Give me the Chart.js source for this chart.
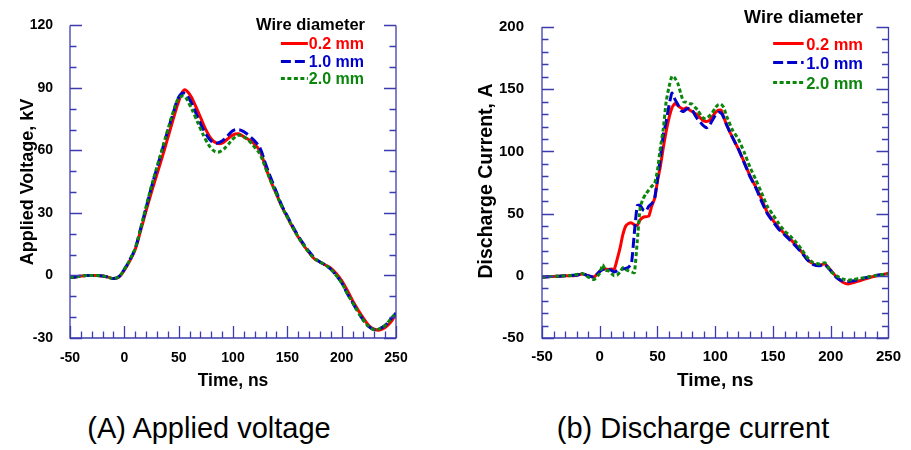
<!DOCTYPE html>
<html><head><meta charset="utf-8">
<script src="https://cdn.jsdelivr.net/npm/chart.js@4.4.1/dist/chart.umd.min.js"></script>
<style>
html,body{margin:0;padding:0;background:#fff;}
body{width:911px;height:450px;position:relative;overflow:hidden;font-family:Arial,"Liberation Sans",sans-serif;}
#wa{position:absolute;left:0;top:0;width:455px;height:400px;}
#wb{position:absolute;left:462px;top:0;width:449px;height:400px;}
.cap{position:absolute;top:414px;font-size:29px;line-height:29px;white-space:nowrap;color:#000;transform:translateX(-50%);}
</style></head><body>
<div id="wa"><canvas id="ca"></canvas></div>
<div id="wb"><canvas id="cb"></canvas></div>
<div class="cap" style="left:209px">(A) Applied voltage</div>
<div class="cap" style="left:693px">(b) Discharge current</div>
<script>
// ---------- DATA ----------
const seriesLabels = ['0.2 mm', '1.0 mm', '2.0 mm'];

// (A) Applied voltage, kV  vs time, ns
const timeA = [-50,-45,-40,-35,-30,-25,-20,-15,-10,-5,0,5,10,15,20,25,30,35,40,45,50,55,60,65,70,75,80,85,90,95,100,105,110,115,120,125,130,135,140,145,150,155,160,165,170,175,180,185,190,195,200,205,210,215,220,225,230,235,240,245,250];
const voltage02 = [-1,-0.7,-0.3,0,0,0,-0.3,-0.8,-1.5,-0.8,2.5,7,12.5,21.5,31,40,48.5,57,66,75,83.5,89,87,82,76,70,65.5,63.5,63.5,65.5,67.5,68,66.5,65,63,59.5,52,45,39,33,28,23,18.5,14.5,11,8,6.5,5,3.5,1,-2.5,-7,-12,-16.5,-20.5,-24,-25.8,-26.2,-25,-22.5,-18.5];
const voltage10 = [-1,-0.7,-0.3,0,0,0,-0.3,-0.8,-1.5,-0.5,3,7.5,13,22.5,32.5,42.5,51.5,60.5,69.5,78,85.5,87.5,84.5,79,73,68,64.5,63.5,64.5,67,69.5,70,69,67,64.5,61,53.5,46.5,40,33.5,28.5,23.5,19,15,11.5,8.5,6.5,5,3,0,-3.5,-8.5,-13,-17.5,-21.5,-24.5,-26,-25.5,-24,-21,-18];
const voltage20 = [-1,-0.7,-0.3,0,0,0,-0.3,-0.8,-1.5,-0.5,3,7.5,13,22.5,33,43,52,61,70,78.5,85,86,82,76.5,70.5,65,61,59.2,60,62.5,65.5,67.3,66.5,64.5,61.5,58,51.5,45,39,33,28,23,18.5,14.5,11,8,6.5,5,3,0,-3.5,-8.5,-13,-17.5,-21.5,-24.5,-26,-25.5,-24,-21,-18];

// (b) Discharge current, A  vs time, ns
const timeB = [-50,-45,-40,-35,-30,-25,-20,-15,-10,-5,0,2.5,5,7.5,10,12.5,15,17.5,20,22.5,25,27.5,30,32.5,35,37.5,40,42.5,45,47.5,50,52.5,55,57.5,60,62.5,65,67.5,70,72.5,75,77.5,80,82.5,85,87.5,90,92.5,95,97.5,100,102.5,105,107.5,110,115,120,125,130,135,140,145,150,155,160,165,170,175,180,185,190,195,200,205,210,215,220,225,230,235,240,245,250];
const current02 = [-1,-0.8,-0.5,-0.3,0,0,0.5,1.5,0,-1,3.5,5.5,5.5,5,5.5,5,13,22,33,40,42,42.5,41,40.5,45,47,47.5,48,56,62,76,88,103,116,127,135,138.5,137,135,134,135,133.5,132,130.5,129,126.5,124.5,124,125,128,131,133,133.3,127,121,111,102,91.5,80.5,71.5,62,51,44.5,38.5,34,29.5,24.5,19,13,9.5,8.5,9.5,4.5,-1,-5,-6.5,-5.5,-4,-2.5,-1,0,1,2];
const current10 = [-1,-0.8,-0.5,-0.3,0,0.3,0.5,1.5,0,-1,3.5,5,5.5,5,4.5,3,4,5,5.5,6,7,10,35,56.5,56.5,53,52,56,58,62,78,95,113,124,137,147,142,138,133,132,134,134.5,133.5,129,125.5,123,120.5,119,121,125,129,131.5,131,127,121,111,102,91,80,71,60,50,43.5,37.5,33,28.5,23.5,18.5,12.5,9,8,9,4,-1.5,-4,-4.5,-4,-3,-1.5,-0.5,0.5,1,1.5];
const current20 = [-1,-0.8,-0.5,-0.3,0,0.3,1,1.8,-1,-3,2,9,4.5,4,2,0,0.5,3,6.5,5,4,3,2.5,28,55,62,66,69,72,74,85,103,118,140,152,160.5,159,155,147,140,139.5,138.5,138,135.5,133,129,126.5,127,128.5,131,135,137.5,138,135,128,117,110,99.5,87.5,77.5,67,56,49,42,36,32,27,21,14.5,10.5,9.5,10.5,3.5,0,-2.5,-3.5,-3,-2,-1.5,-0.5,0.5,1,1.5];

// ---------- STYLE ----------
const FONT = 'Arial, "Liberation Sans", sans-serif';
const COLORS = ['#ff0000', '#0000cc', '#0a870a'];
const DASHES = [[], [10, 4], [4, 2.5]];
const FRAME = '#3c3cb0';

function buildSets(times, lists, tension) {
  return lists.map((vals, k) => ({
    label: seriesLabels[k],
    data: times.map((t, i) => ({x: t, y: vals[i]})),
    borderColor: COLORS[k],
    backgroundColor: COLORS[k],
    borderDash: DASHES[k],
    borderWidth: 3,
    pointRadius: 0,
    tension: tension,
    fill: false,
    order: 3 - k
  }));
}

const framePlugin = {
  id: 'frame',
  afterDraw(chart, args, o) {
    const {ctx, chartArea: a, scales} = chart;
    const xs = scales.x, ys = scales.y;
    ctx.save();
    ctx.strokeStyle = FRAME;
    ctx.lineWidth = 1.3;
    ctx.setLineDash([]);
    ctx.beginPath();
    ctx.moveTo(a.left, a.top); ctx.lineTo(a.left, a.bottom); ctx.lineTo(a.right, a.bottom); ctx.lineTo(a.right, a.top);
    ctx.stroke();
    ctx.beginPath();
    for (let v = ys.min; v <= ys.max + 1e-6; v += o.yMinor) {
      const maj = Math.abs(v % o.yMajor) < 1e-6;
      const L = maj ? 12 : 6.5;
      const py = Math.round(ys.getPixelForValue(v)) + 0.5;
      ctx.moveTo(a.left, py); ctx.lineTo(a.left + L, py);
      ctx.moveTo(a.right, py); ctx.lineTo(a.right - L, py);
    }
    for (let v = xs.min; v <= xs.max + 1e-6; v += o.xMinor) {
      const maj = Math.abs(v % o.xMajor) < 1e-6;
      const L = maj ? 12 : 6.5;
      const px = Math.round(xs.getPixelForValue(v)) + 0.5;
      ctx.moveTo(px, a.bottom); ctx.lineTo(px, a.bottom - L);
    }
    ctx.stroke();
    // vertical axis title
    ctx.save();
    ctx.translate(o.yTitleX, o.yTitleY);
    ctx.rotate(-Math.PI / 2);
    ctx.font = 'bold ' + o.yTitleSize + 'px ' + FONT;
    ctx.fillStyle = '#000';
    ctx.textAlign = 'center';
    ctx.textBaseline = 'middle';
    ctx.fillText(o.yTitle, 0, 0);
    ctx.restore();
    ctx.restore();
  }
};

const legendPlugin = {
  id: 'wireLegend',
  afterDraw(chart, args, o) {
    const ctx = chart.ctx;
    ctx.save();
    ctx.textAlign = 'right';
    ctx.textBaseline = 'alphabetic';
    ctx.font = 'bold ' + o.titleSize + 'px ' + FONT;
    ctx.fillStyle = '#000';
    ctx.fillText(o.title, o.titleRight, o.titleBase);
    ctx.font = 'bold ' + o.size + 'px ' + FONT;
    chart.data.datasets.forEach((ds, i) => {
      const y = o.bases[i];
      ctx.fillStyle = ds.borderColor;
      ctx.fillText(ds.label, o.right, y);
      const w = ctx.measureText(ds.label).width;
      const x1 = o.right - w - o.gap, x0 = x1 - o.len;
      const ly = Math.round(y - o.size * 0.37) + 0.5;
      ctx.strokeStyle = ds.borderColor;
      ctx.lineWidth = 3;
      ctx.setLineDash(ds.borderDash);
      ctx.beginPath(); ctx.moveTo(x0, ly); ctx.lineTo(x1, ly); ctx.stroke();
    });
    ctx.restore();
  }
};

function makeChart(id, p) {
  return new Chart(document.getElementById(id), {
    type: 'line',
    data: {datasets: p.sets},
    plugins: [framePlugin, legendPlugin],
    options: {
      responsive: true, maintainAspectRatio: false, animation: false, devicePixelRatio: 1,
      layout: {padding: {left: 0, top: p.top, right: p.right, bottom: 0}},
      plugins: {
        legend: {display: false}, tooltip: {enabled: false},
        frame: {xMinor: 10, xMajor: 50, yMinor: 10, yMajor: p.yStep,
                yTitle: p.yTitle, yTitleX: p.yTitleX, yTitleY: p.yTitleY, yTitleSize: p.yTitleSize},
        wireLegend: p.legend
      },
      scales: {
        x: {
          type: 'linear', min: -50, max: 250,
          grid: {display: false, drawTicks: false}, border: {display: false},
          ticks: {stepSize: 50, padding: p.xPad, color: '#000', font: {family: FONT, size: p.tick, weight: 'bold'}, maxRotation: 0, autoSkip: false},
          title: {display: true, text: 'Time, ns', color: '#000', font: {family: FONT, size: p.ttl, weight: 'bold'}, padding: {top: 0, bottom: p.xTtlPad}},
          afterFit: s => { s.height = 62; }
        },
        y: {
          type: 'linear', min: p.yMin, max: p.yMax,
          grid: {display: false, drawTicks: false}, border: {display: false},
          ticks: {stepSize: p.yStep, padding: p.yPad, color: '#000', font: {family: FONT, size: p.tick, weight: 'bold'}},
          afterFit: s => { s.width = p.yWidth; }
        }
      }
    }
  });
}

makeChart('ca', {
  sets: buildSets(timeA, [voltage02, voltage10, voltage20], 0.4),
  top: 17, right: 59, yMin: -30, yMax: 120, yStep: 30, yWidth: 70,
  tick: 14, ttl: 17.5, xPad: 12, yPad: 17, xTtlPad: 8,
  yTitle: 'Applied Voltage, kV', yTitleX: 28, yTitleY: 182, yTitleSize: 18,
  legend: {title: 'Wire diameter', titleSize: 16.5, titleRight: 365, titleBase: 29.5, size: 16, right: 364, bases: [49, 66.5, 83.5], gap: 1, len: 27}
});

makeChart('cb', {
  sets: buildSets(timeB, [current02, current10, current20], 0.15),
  top: 18, right: 14, yMin: -50, yMax: 200, yStep: 50, yWidth: 80,
  tick: 15, ttl: 19, xPad: 10, yPad: 18, xTtlPad: 8,
  yTitle: 'Discharge Current, A', yTitleX: 25, yTitleY: 181, yTitleSize: 19.5,
  legend: {title: 'Wire diameter', titleSize: 18, titleRight: 401, titleBase: 23, size: 16.5, right: 401, bases: [49.5, 68.5, 88.5], gap: 2.5, len: 30.5}
});
</script>
</body></html>
